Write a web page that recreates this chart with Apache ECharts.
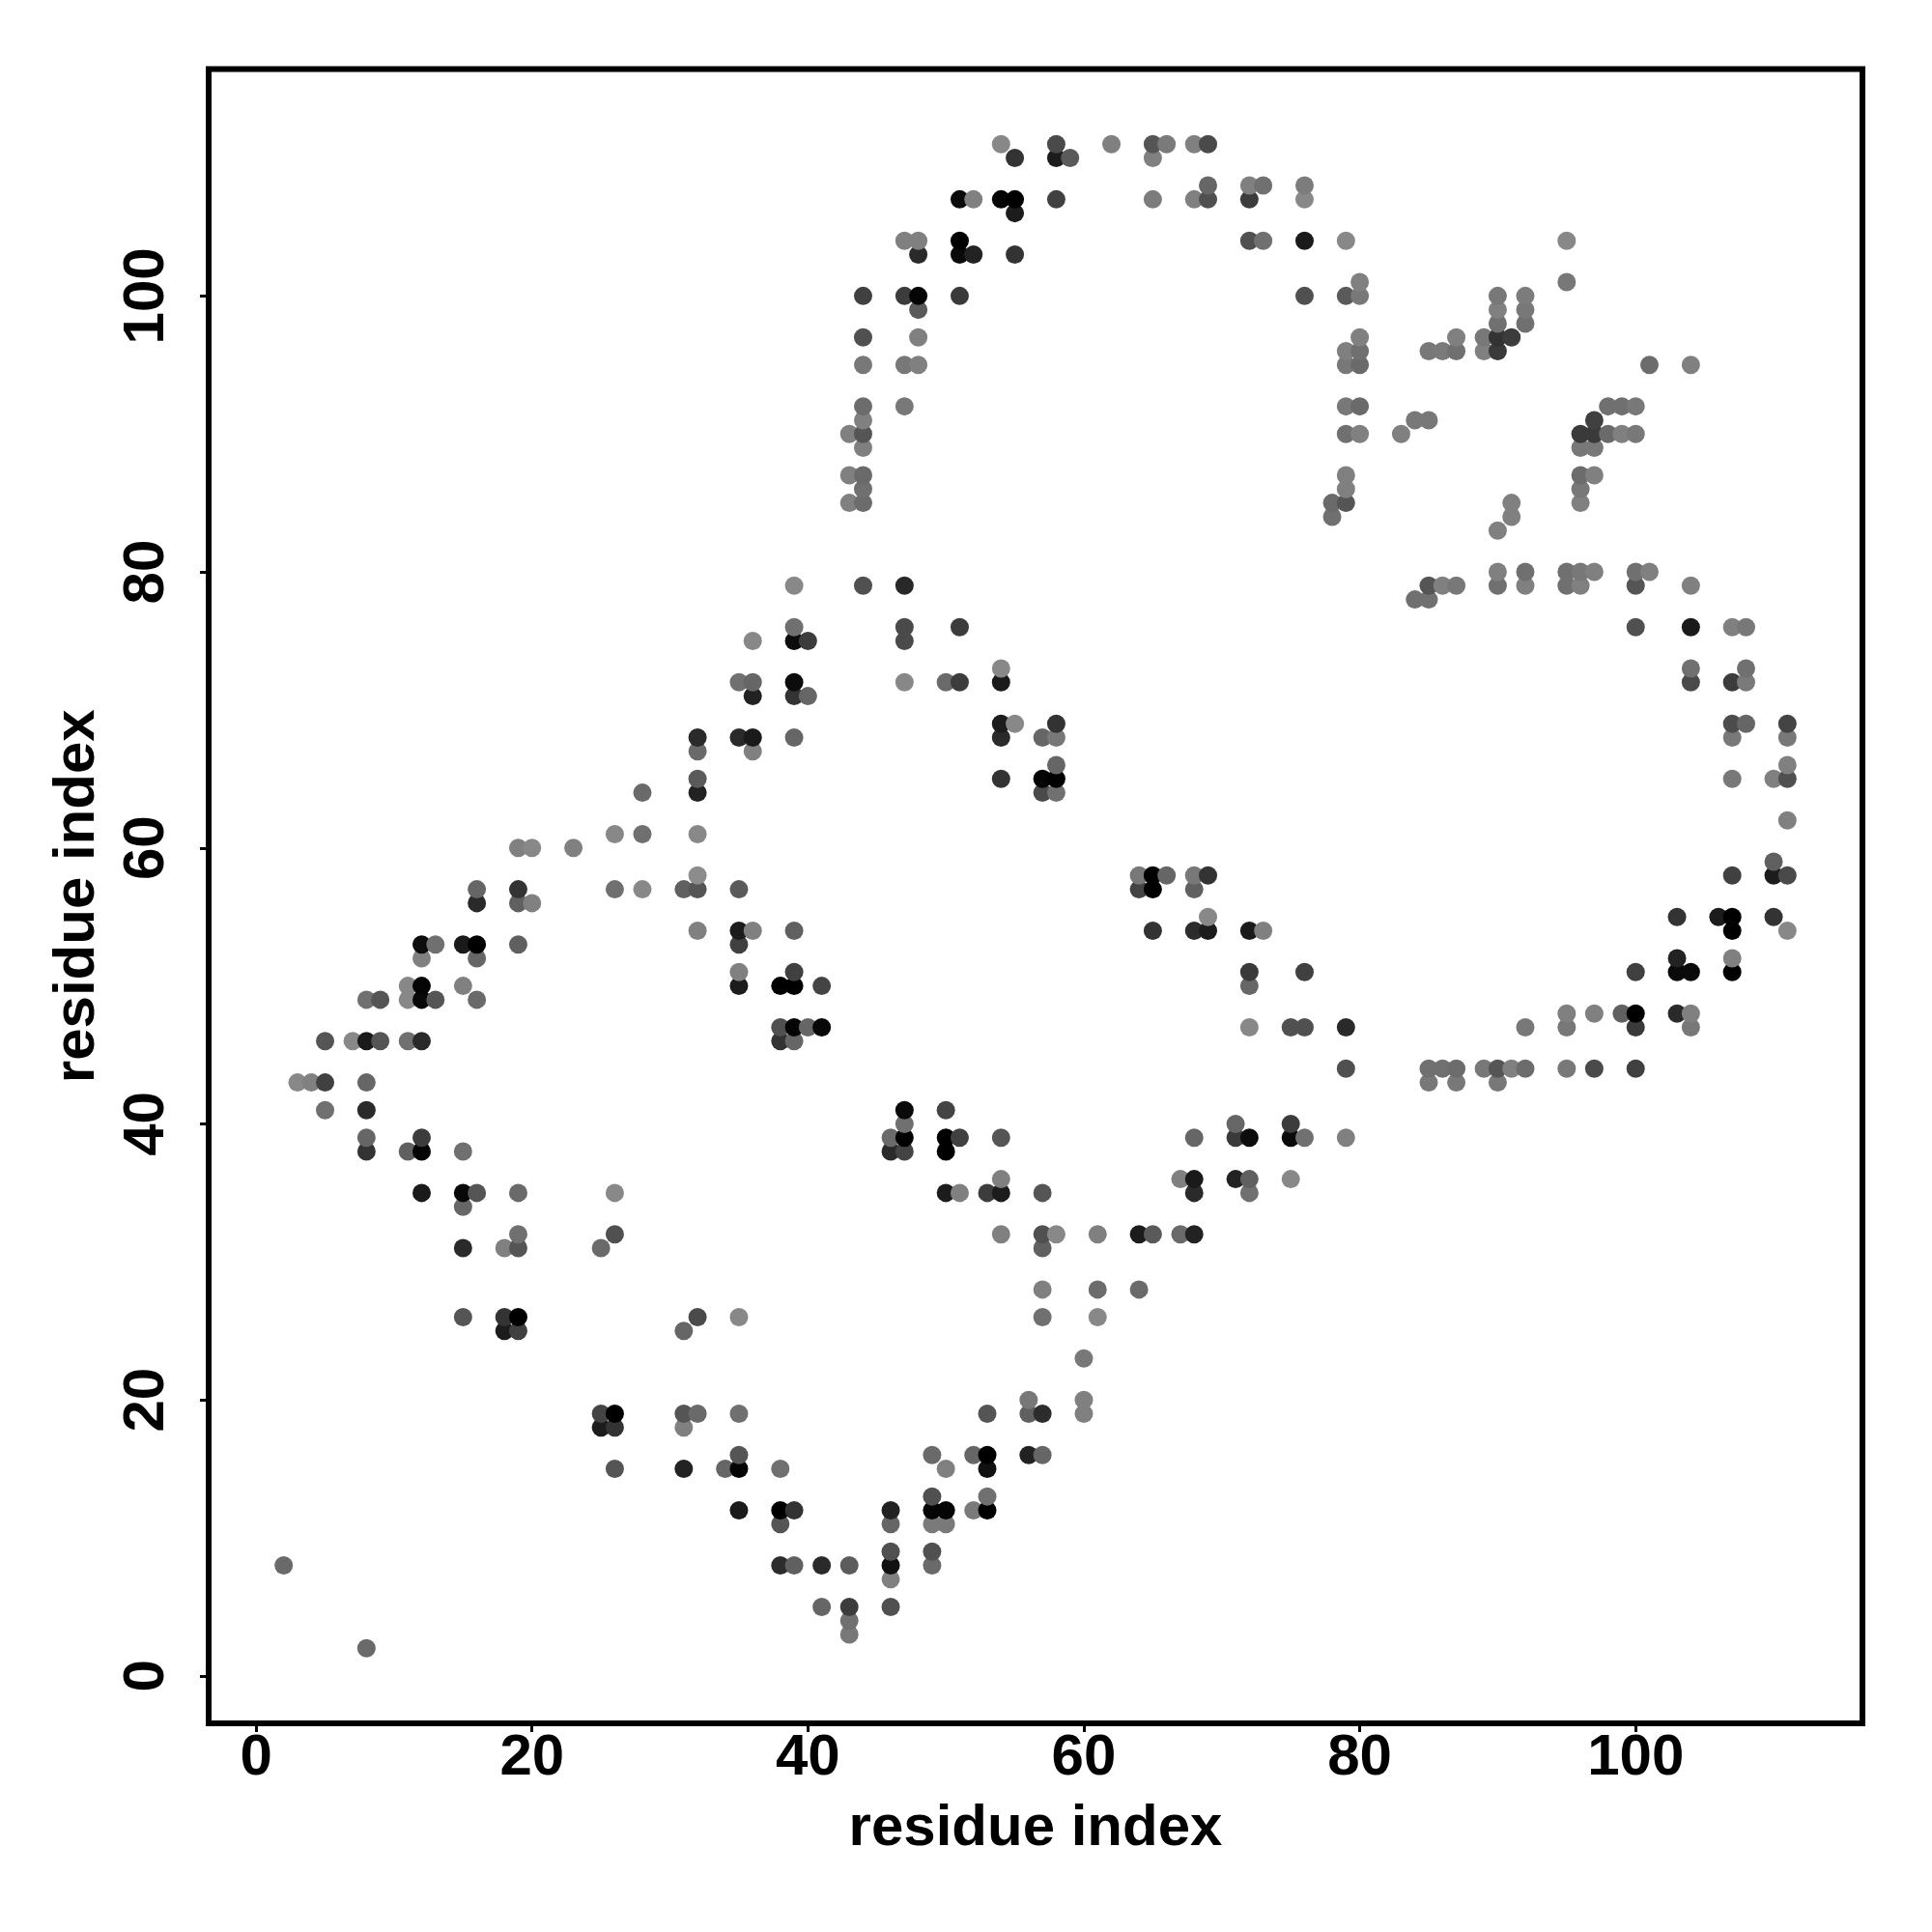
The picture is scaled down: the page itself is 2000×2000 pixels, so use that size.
<!DOCTYPE html>
<html>
<head>
<meta charset="utf-8">
<style>html,body{margin:0;padding:0;background:#fff}#c{width:2000px;height:2000px}</style>
<script src="https://cdn.jsdelivr.net/npm/echarts@6/dist/echarts.min.js"></script>
</head>
<body>
<div id="c"></div>
<script>
const axisTitle = 'residue index';
const tickValues = [0, 20, 40, 60, 80, 100];

const rowY = [111,110,108,107,106,104,103,101,100,99,98,97,96,95,92,91,90,89,87,86,85,84,83,80,79,78,76,75,73,72,71,69,68,67,66,65,64,62,61,60,59,58,57,56,55,54,53,52,51,50,49,48,47,46,44,43,41,40,39,38,36,35,34,32,31,28,26,25,23,20,19,18,16,15,13,12,11,9,8,7,5,4,3,2];

const rowX = [
[54,58,62,65,66,68,69],[55,58,59,65],[69,72,73,76],[51,52,54,55,58,65,68,69,72,76],[55],
[47,48,51,72,73,76,79,95],[48,51,52,55],[80,95],[44,47,48,51,76,79,80,90,92],[48,90,92],
[90,92],[44,48,80,87,89,90,91],[79,80,85,86,87,89,90],[44,47,48,79,80,101,104],[44,47,79,80,98,99,100],
[44,84,85,97],[43,44,79,80,83,96,97,98,99,100],[44,96,97],[43,44,79,96,97],[44,79,96],
[43,44,78,79,91,96],[78,91],[90],[90,92,95,96,97,100,101],[39,44,47,85,86,87,90,92,95,96,100,104],
[84,85],[39,47,51,100,104,107,108],[36,39,40,47],[54,104,108],[35,36,39,47,50,51,54,104,107,108],
[36,39,40],[54,55,58,107,108,111],[32,35,36,39,54,57,58,107,111],[32,36],[58,111],
[32,54,57,58,107,110,111],[28,32,57,58],[111],[26,28,32],[19,20,23],
[110],[32,64,65,66,68,69,107,110,111],[16,19,26,28,31,32,35,64,65,68],[16,19,20],[69,103,106,107,110],
[32,35,36,39,65,68,69,72,73,107,111],[12,13,15,16,19,35],[12,16,103,107],[35,39,72,76,100,103,104,107],[11,12,15,35,38,39,41,72],
[8,9,11,12,13,16],[95,97,99,100,103,104],[38,39,40,41,72,75,76,79,92,95,100,104],[5,7,8,9,11,12,38,39],[79,85,86,87,89,90,91,92,95,97,100],
[3,4,5,8,85,87,90],[5,8,47,50],[47,71,75],[8,12,46,47,50,51,54,68,71,72,75,76,79],[8,11,12,15,46,47,50],
[54,67,68,71,72,75],[12,15,16,19,26,50,51,53,54,57,68,72],[15],[19,26,54,57,58,61,64,65,67,68],[15,18,19,25,57],
[57,61,64],[15,18,19,32,35,57,61],[18,19,31],[60],[56,60],
[25,26,31,32,35,53,56,57,60],[25,26,31],[35,49,52,53,56,57],[26,31,34,35,38,50,53],[49,53],
[35,38,39,46,49,50,52,53],[38,46,49,50],[46,49],[2,38,39,41,43,46,49],[46],
[41,43,46],[43],[43],[8]
];

const rowShade = [
[0x88,0x4a,0x80,0x55,0x7a,0x80,0x4a],[0x33,0x1c,0x5a,0x80],[0x66,0x80,0x70,0x7c],[0x0a,0x80,0x05,0x00,0x40,0x7c,0x80,0x50,0x3c,0x88],[0x1c],
[0x80,0x80,0x00,0x50,0x70,0x1a,0x88,0x88],[0x2a,0x0a,0x22,0x33],[0x80,0x78],[0x40,0x3c,0x05,0x3a,0x50,0x5a,0x78,0x78,0x7c],[0x5a,0x80,0x78],
[0x70,0x70],[0x50,0x80,0x80,0x80,0x78,0x33,0x3c],[0x80,0x70,0x78,0x7a,0x70,0x80,0x3a],[0x78,0x78,0x80,0x78,0x6a,0x6c,0x80],[0x6c,0x78,0x78,0x6a,0x70,0x70,0x78],
[0x80,0x78,0x78,0x40],[0x80,0x55,0x70,0x80,0x80,0x3a,0x3a,0x6a,0x80,0x78],[0x80,0x78,0x78],[0x80,0x6a,0x80,0x6c,0x80],[0x70,0x80,0x78],
[0x80,0x6c,0x6a,0x55,0x80,0x80],[0x70,0x80],[0x80],[0x80,0x70,0x70,0x78,0x80,0x70,0x80],[0x88,0x50,0x28,0x55,0x80,0x78,0x70,0x80,0x70,0x80,0x55,0x80],
[0x70,0x70],[0x70,0x4a,0x3c,0x50,0x1a,0x80,0x78],[0x88,0x0c,0x3c,0x4a],[0x88,0x70,0x70],[0x70,0x66,0x0c,0x88,0x6a,0x3c,0x1a,0x4a,0x3c,0x7a],
[0x22,0x33,0x66],[0x1c,0x88,0x33,0x4c,0x66,0x44],[0x2a,0x2a,0x1a,0x66,0x2a,0x66,0x78,0x78,0x78],[0x6a,0x80],[0x66,0x80],
[0x5a,0x33,0x05,0x00,0x78,0x80,0x50],[0x6a,0x22,0x4a,0x70],[0x80],[0x88,0x70,0x88],[0x80,0x88,0x80],
[0x60],[0x8c,0x78,0x00,0x66,0x78,0x33,0x40,0x1c,0x4a],[0x66,0x33,0x70,0x88,0x60,0x55,0x5a,0x44,0x00,0x60],[0x2a,0x60,0x80],[0x88,0x33,0x1c,0x00,0x33],
[0x80,0x1c,0x80,0x60,0x33,0x2c,0x1c,0x1a,0x80,0x00,0x88],[0x0c,0x70,0x1a,0x00,0x60,0x40],[0x80,0x66,0x22,0x80],[0x80,0x40,0x3a,0x40,0x40,0x0a,0x0a,0x00],[0x88,0x05,0x80,0x1c,0x00,0x00,0x44,0x66],
[0x70,0x55,0x88,0x08,0x55,0x6a],[0x80,0x80,0x60,0x00,0x2a,0x80],[0x50,0x05,0x66,0x08,0x88,0x50,0x50,0x2a,0x78,0x78,0x3a,0x78],[0x55,0x88,0x1a,0x55,0x70,0x2a,0x33,0x66],[0x50,0x70,0x70,0x6c,0x78,0x55,0x80,0x6c,0x78,0x4a,0x40],
[0x88,0x80,0x40,0x66,0x78,0x78,0x78],[0x70,0x2a,0x0a,0x44],[0x70,0x66,0x3c],[0x66,0x3c,0x6a,0x00,0x00,0x40,0x55,0x66,0x3a,0x0c,0x0a,0x70,0x80],[0x33,0x60,0x05,0x70,0x2a,0x44,0x00],
[0x80,0x80,0x1a,0x22,0x60,0x88],[0x1a,0x08,0x55,0x6a,0x88,0x1c,0x80,0x3c,0x1c,0x55,0x2a,0x70],[0x66],[0x70,0x50,0x80,0x50,0x88,0x80,0x1c,0x5a,0x6a,0x22],[0x2a,0x80,0x55,0x6a,0x60],
[0x80,0x6c,0x6a],[0x55,0x33,0x00,0x4a,0x88,0x70,0x88],[0x1c,0x40,0x66],[0x78],[0x78,0x80],
[0x44,0x00,0x55,0x6a,0x70,0x55,0x60,0x2c,0x80],[0x1c,0x33,0x80],[0x55,0x6a,0x66,0x00,0x22,0x66],[0x55,0x22,0x66,0x05,0x70,0x80,0x11],[0x50,0x70],
[0x1a,0x00,0x33,0x22,0x05,0x05,0x7a,0x00],[0x55,0x66,0x7a,0x7a],[0x50,0x50],[0x6a,0x2c,0x60,0x2a,0x5c,0x11,0x6a],[0x80],
[0x66,0x3c,0x50],[0x70],[0x78],[0x6a]
];

const points = [];
rowY.forEach((y, r) => rowX[r].forEach((x, k) => points.push([x, y, rowShade[r][k]])));
points.sort((a, b) => a[0] - b[0] || a[1] - b[1]);

const font = 'Liberation Sans';
const makeAxis = (rotate, labelMargin, nameGap) => ({
  type: 'value',
  min: -3.44,
  max: 116.44,
  splitLine: { show: false },
  axisLine: { show: false, onZero: false },
  axisTick: { show: true, length: 9, lineStyle: { color: '#000', width: 3 }, customValues: tickValues },
  axisLabel: {
    show: true, rotate, margin: labelMargin, color: '#000', fontFamily: font, fontWeight: 'bold', fontSize: 60,
    customValues: tickValues
  },
  name: axisTitle,
  nameLocation: 'middle',
  nameGap,
  nameRotate: rotate,
  nameTextStyle: { color: '#000', fontFamily: font, fontWeight: 'bold', fontSize: 60 }
});

const chart = echarts.init(document.getElementById('c'), null, { renderer: 'canvas', width: 2000, height: 2000 });
chart.setOption({
  animation: false,
  backgroundColor: '#fff',
  grid: { show: true, left: 216, top: 71.5, width: 1712, height: 1712.5, borderColor: '#000', borderWidth: 6, backgroundColor: 'transparent', containLabel: false },
  xAxis: makeAxis(0, 6, 79),
  yAxis: makeAxis(90, 34, 106),
  tooltip: { show: false },
  series: [{
    type: 'scatter',
    data: points,
    symbol: 'circle',
    symbolSize: 19,
    silent: true,
    large: false,
    progressive: 0,
    itemStyle: { opacity: 1, color: p => { const s = p.value[2]; return `rgb(${s},${s},${s})`; } }
  }]
});
</script>
</body>
</html>
